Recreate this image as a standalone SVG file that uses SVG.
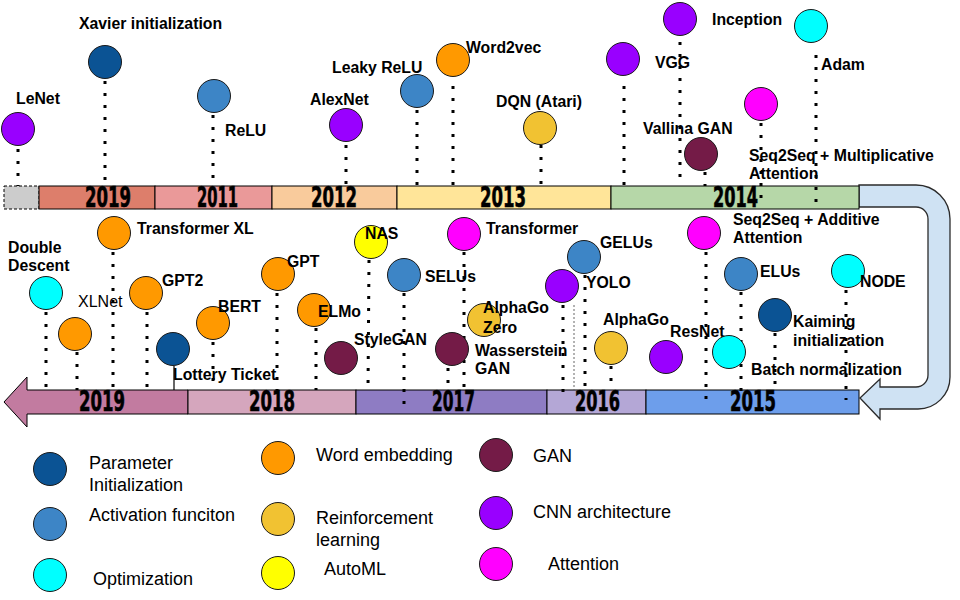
<svg xmlns="http://www.w3.org/2000/svg" width="960" height="600" viewBox="0 0 960 600">
<style>
.bar{stroke:#000;stroke-width:1}
.yr{font-family:"Liberation Sans Narrow","DejaVu Sans Condensed","Liberation Sans",sans-serif;font-weight:bold;font-size:28px;fill:#000;stroke:#000;stroke-width:0.6}
.lb{font-family:"Liberation Sans",Arial,sans-serif;font-weight:bold;font-size:15.8px;fill:#000}
.lr{font-family:"Liberation Sans",Arial,sans-serif;font-size:16px;fill:#000}
.lg{font-family:"Liberation Sans",Arial,sans-serif;font-size:18px;fill:#000}
.dot{stroke:#000;stroke-width:3;stroke-dasharray:3 9;fill:none}
circle{stroke:#1a1a1a;stroke-width:1}
.pi{fill:#0B5394}.af{fill:#3D85C6}.op{fill:#00FFFF}.we{fill:#FF9900}.rl{fill:#F1C232}.am{fill:#FFFF00}.gan{fill:#741B47}.cnn{fill:#9900FF}.att{fill:#FF00FF}
</style>
<rect width="960" height="600" fill="#fff"/>
<g id="timeline">
<path d="M859,185 L916,185 A34,34 0 0 1 950,219 L950,377 A32,32 0 0 1 918,409 L880,409 L880,419 L860,398 L880,379 L880,387 L916,387 A12,12 0 0 0 928,375 L928,219 A12,12 0 0 0 916,207 L859,207 Z" fill="#CFE2F3" stroke="#2b2b2b" stroke-width="1.3"/>
<rect x="4" y="186" width="35" height="23" fill="#CCCCCC" stroke="#000" stroke-dasharray="3 2"/>
<rect class="bar" x="39" y="186" width="116" height="23" fill="#DD7E6B"/>
<rect class="bar" x="155" y="186" width="117" height="23" fill="#EA9999"/>
<rect class="bar" x="272" y="186" width="125" height="23" fill="#F9CB9C"/>
<rect class="bar" x="397" y="186" width="214" height="23" fill="#FFE599"/>
<rect class="bar" x="611" y="186" width="248" height="23" fill="#B6D7A8"/>
<path class="bar" d="M188,390 L27,390 L27,377 L4,402 L27,427 L27,414 L188,414 Z" fill="#C27BA0"/>
<rect class="bar" x="188" y="390" width="168" height="24" fill="#D5A6BD"/>
<rect class="bar" x="356" y="390" width="191" height="24" fill="#8E7CC3"/>
<rect class="bar" x="547" y="390" width="99" height="24" fill="#B4A7D6"/>
<rect class="bar" x="646" y="390" width="213" height="24" fill="#6D9EEB"/>
<text class="yr" x="85" y="207" textLength="46" lengthAdjust="spacingAndGlyphs">2019</text>
<text class="yr" x="197" y="207" textLength="41" lengthAdjust="spacingAndGlyphs">2011</text>
<text class="yr" x="311" y="207" textLength="46" lengthAdjust="spacingAndGlyphs">2012</text>
<text class="yr" x="480" y="207" textLength="46" lengthAdjust="spacingAndGlyphs">2013</text>
<text class="yr" x="713" y="207" textLength="45" lengthAdjust="spacingAndGlyphs">2014</text>
<text class="yr" x="79" y="411" textLength="46" lengthAdjust="spacingAndGlyphs">2019</text>
<text class="yr" x="249" y="411" textLength="46" lengthAdjust="spacingAndGlyphs">2018</text>
<text class="yr" x="432" y="411" textLength="43" lengthAdjust="spacingAndGlyphs">2017</text>
<text class="yr" x="575" y="411" textLength="45" lengthAdjust="spacingAndGlyphs">2016</text>
<text class="yr" x="730" y="411" textLength="46" lengthAdjust="spacingAndGlyphs">2015</text>
</g>
<g id="connectors">
<line class="dot" x1="18" y1="149" x2="18" y2="186"/>
<line class="dot" x1="105" y1="81" x2="105" y2="182"/>
<line class="dot" x1="213" y1="115" x2="213" y2="186"/>
<line class="dot" x1="346" y1="145" x2="346" y2="186"/>
<line class="dot" x1="417" y1="110" x2="417" y2="186"/>
<line class="dot" x1="453" y1="86" x2="453" y2="186"/>
<line class="dot" x1="541" y1="145" x2="541" y2="186"/>
<line class="dot" x1="624" y1="86" x2="624" y2="186"/>
<line class="dot" x1="680" y1="42" x2="680" y2="180"/>
<line class="dot" x1="816" y1="55" x2="816" y2="202"/>
<line class="dot" x1="761" y1="123" x2="761" y2="205"/>
<line class="dot" x1="705" y1="172" x2="705" y2="186"/>
<line class="dot" x1="46" y1="312" x2="46" y2="396"/>
<line class="dot" x1="77" y1="352" x2="77" y2="390"/>
<line class="dot" x1="113" y1="252" x2="113" y2="390"/>
<line class="dot" x1="147" y1="312" x2="147" y2="390"/>
<line x1="174" y1="366" x2="174" y2="390" stroke="#000" stroke-width="1.2"/>
<line class="dot" x1="213" y1="342" x2="213" y2="390"/>
<line class="dot" x1="277" y1="293" x2="277" y2="390"/>
<line class="dot" x1="316" y1="328" x2="316" y2="390"/>
<line class="dot" x1="369" y1="260" x2="368" y2="390"/>
<line class="dot" x1="404" y1="293" x2="404" y2="405"/>
<line class="dot" x1="464" y1="252" x2="464" y2="390"/>
<line class="dot" x1="448" y1="368" x2="448" y2="390"/>
<line class="dot" x1="563" y1="305" x2="563" y2="392"/>
<line x1="574" y1="305" x2="574" y2="390" stroke="#666" stroke-width="1" stroke-dasharray="2 2"/>
<line class="dot" x1="585" y1="275" x2="585" y2="390"/>
<line class="dot" x1="611" y1="366" x2="611" y2="390"/>
<line class="dot" x1="706" y1="252" x2="706" y2="400"/>
<line class="dot" x1="741" y1="292" x2="741" y2="400"/>
<line class="dot" x1="775" y1="333" x2="775" y2="392"/>
<line class="dot" x1="846" y1="290" x2="846" y2="400"/>
</g>
<g id="n-lenet"><circle class="cnn" cx="18" cy="129" r="16.5"/><text class="lb" x="16" y="104">LeNet</text></g>
<g id="n-xavier"><circle class="pi" cx="105" cy="62" r="16.5"/><text class="lb" x="79" y="29">Xavier initialization</text></g>
<g id="n-relu"><circle class="af" cx="214" cy="96" r="16.5"/><text class="lb" x="225" y="136">ReLU</text></g>
<g id="n-alexnet"><circle class="cnn" cx="346" cy="125" r="16.5"/><text class="lb" x="310" y="105">AlexNet</text></g>
<g id="n-leaky"><circle class="af" cx="417" cy="91" r="16.5"/><text class="lb" x="332" y="73">Leaky ReLU</text></g>
<g id="n-w2v"><circle class="we" cx="453" cy="60" r="16.5"/><text class="lb" x="466" y="53">Word2vec</text></g>
<g id="n-dqn"><circle class="rl" cx="540" cy="128" r="16.5"/><text class="lb" x="496" y="107">DQN (Atari)</text></g>
<g id="n-vgg"><circle class="cnn" cx="623" cy="59" r="16.5"/><text class="lb" x="655" y="68">VGG</text></g>
<g id="n-inception"><circle class="cnn" cx="680" cy="19" r="16.5"/><text class="lb" x="712" y="25">Inception</text></g>
<g id="n-adam"><circle class="op" cx="811" cy="26" r="16.5"/><text class="lb" x="821" y="70">Adam</text></g>
<g id="n-seqmul"><circle class="att" cx="761" cy="104" r="16.5"/><text class="lb" x="749" y="161">Seq2Seq + Multiplicative</text><text class="lb" x="749" y="179">Attention</text></g>
<g id="n-gan"><circle class="gan" cx="701" cy="154" r="16.5"/><text class="lb" x="643" y="134">Vallina GAN</text></g>
<g id="n-dd"><circle class="op" cx="46" cy="293" r="16.5"/><text class="lb" x="8" y="253">Double</text><text class="lb" x="8" y="271">Descent</text></g>
<g id="n-xlnet"><circle class="we" cx="75" cy="334" r="16.5"/><text class="lr" x="78" y="307">XLNet</text></g>
<g id="n-txl"><circle class="we" cx="114" cy="233" r="16.5"/><text class="lb" x="137" y="234">Transformer XL</text></g>
<g id="n-gpt2"><circle class="we" cx="146" cy="293" r="16.5"/><text class="lb" x="162" y="286">GPT2</text></g>
<g id="n-lottery"><circle class="pi" cx="173" cy="349" r="16.5"/><text class="lb" x="173" y="380">Lottery Ticket</text></g>
<g id="n-bert"><circle class="we" cx="213" cy="323" r="16.5"/><text class="lb" x="218" y="312">BERT</text></g>
<g id="n-gpt"><circle class="we" cx="278" cy="274" r="16.5"/><text class="lb" x="287" y="267">GPT</text></g>
<g id="n-elmo"><circle class="we" cx="314" cy="310" r="16.5"/><text class="lb" x="318" y="317">ELMo</text></g>
<g id="n-nas"><circle class="am" cx="371" cy="242" r="16.5"/><text class="lb" x="365" y="239">NAS</text></g>
<g id="n-stylegan"><circle class="gan" cx="341" cy="358" r="16.5"/><text class="lb" x="354" y="345">StyleGAN</text></g>
<g id="n-selus"><circle class="af" cx="404" cy="275" r="16.5"/><text class="lb" x="425" y="282">SELUs</text></g>
<g id="n-transformer"><circle class="att" cx="464" cy="234" r="16.5"/><text class="lb" x="486" y="234">Transformer</text></g>
<g id="n-agz"><circle class="rl" cx="484" cy="320" r="16.5"/><text class="lb" x="483" y="313">AlphaGo</text><text class="lb" x="483" y="333">Zero</text></g>
<g id="n-wgan"><circle class="gan" cx="452" cy="349" r="16.5"/><text class="lb" x="475" y="356">Wasserstein</text><text class="lb" x="475" y="374">GAN</text></g>
<g id="n-yolo"><circle class="cnn" cx="562" cy="286" r="16.5"/><text class="lb" x="586" y="288">YOLO</text></g>
<g id="n-gelus"><circle class="af" cx="584" cy="257" r="16.5"/><text class="lb" x="600" y="248">GELUs</text></g>
<g id="n-alphago"><circle class="rl" cx="611" cy="348" r="16.5"/><text class="lb" x="603" y="325">AlphaGo</text></g>
<g id="n-resnet"><circle class="cnn" cx="666" cy="357" r="16.5"/><text class="lb" x="670" y="337">ResNet</text></g>
<g id="n-seqadd"><circle class="att" cx="704" cy="233" r="16.5"/><text class="lb" x="733" y="225">Seq2Seq + Additive</text><text class="lb" x="733" y="243">Attention</text></g>
<g id="n-elus"><circle class="af" cx="741" cy="274" r="16.5"/><text class="lb" x="760" y="277">ELUs</text></g>
<g id="n-bn"><circle class="op" cx="729" cy="352" r="16.5"/><text class="lb" x="751" y="375">Batch normalization</text></g>
<g id="n-kaiming"><circle class="pi" cx="775" cy="315" r="16.5"/><text class="lb" x="793" y="327">Kaiming</text><text class="lb" x="793" y="346">initialization</text></g>
<g id="n-node"><circle class="op" cx="848" cy="271" r="16.5"/><text class="lb" x="860" y="287">NODE</text></g>
<g id="legend">
<circle class="pi" cx="50" cy="469" r="16.5"/><text class="lg" x="89" y="469">Parameter</text><text class="lg" x="89" y="491">Initialization</text>
<circle class="af" cx="50" cy="524" r="16.5"/><text class="lg" x="89" y="521">Activation funciton</text>
<circle class="op" cx="50" cy="575" r="16.5"/><text class="lg" x="93" y="585">Optimization</text>
<circle class="we" cx="278" cy="458" r="16.5"/><text class="lg" x="316" y="461">Word embedding</text>
<circle class="rl" cx="278" cy="519" r="16.5"/><text class="lg" x="316" y="524">Reinforcement</text><text class="lg" x="316" y="546">learning</text>
<circle class="am" cx="278" cy="573" r="16.5"/><text class="lg" x="324" y="575">AutoML</text>
<circle class="gan" cx="496" cy="455" r="16.5"/><text class="lg" x="533" y="462">GAN</text>
<circle class="cnn" cx="496" cy="513" r="16.5"/><text class="lg" x="533" y="518">CNN architecture</text>
<circle class="att" cx="496" cy="564" r="16.5"/><text class="lg" x="548" y="570">Attention</text>
</g>
</svg>
